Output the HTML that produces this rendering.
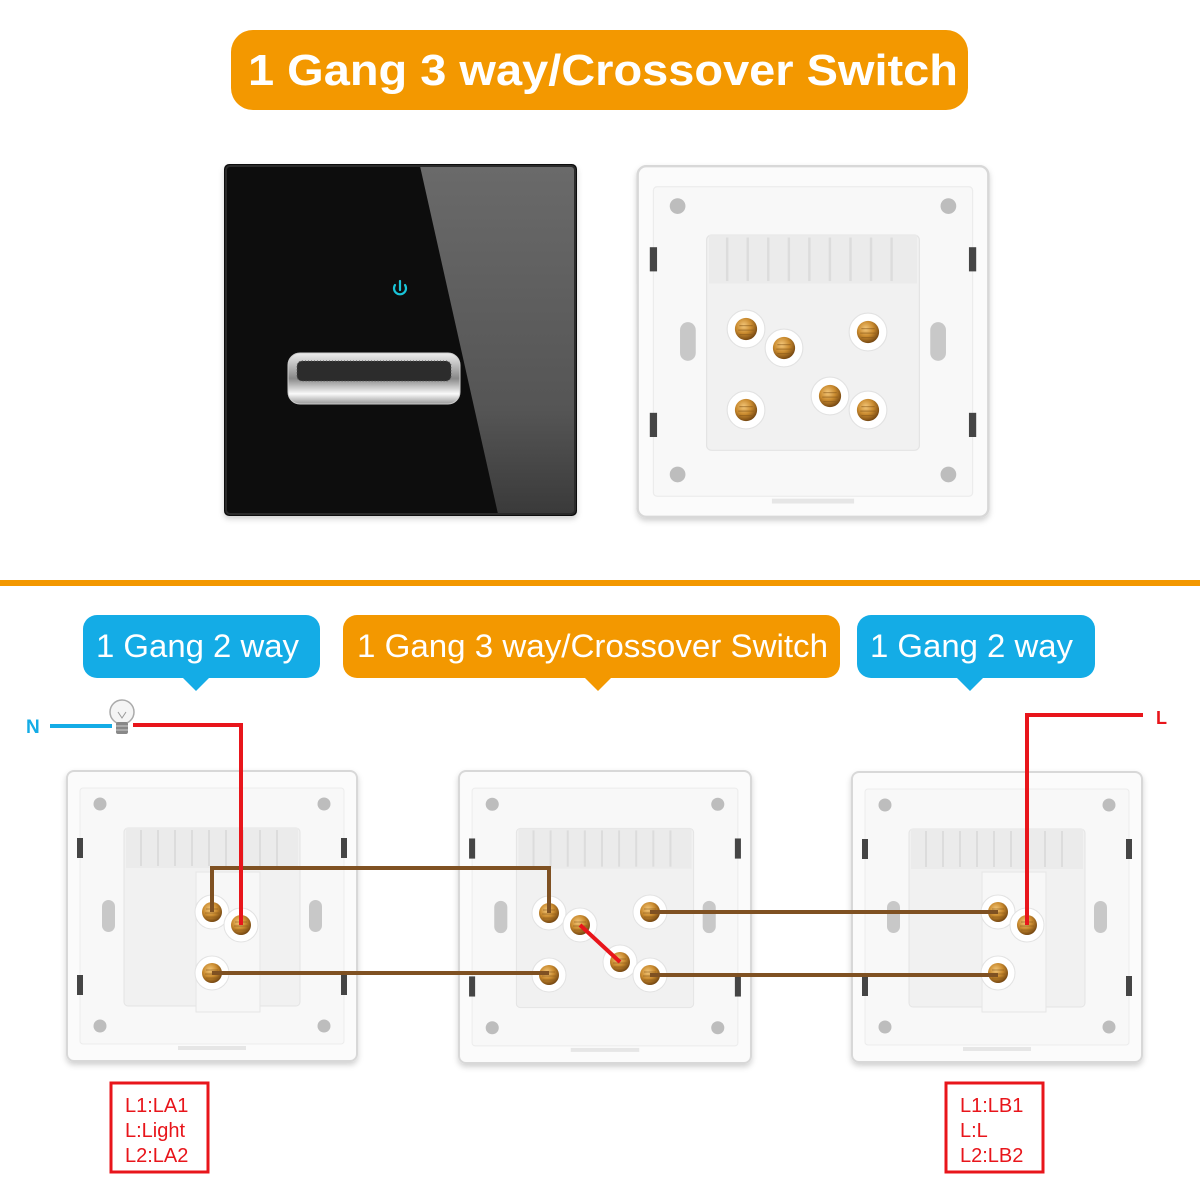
<!DOCTYPE html>
<html><head><meta charset="utf-8"><style>
html,body{margin:0;padding:0;background:#fff}
svg{display:block}
text{font-family:"Liberation Sans",sans-serif}
</style></head><body>
<svg width="1200" height="1200" viewBox="0 0 1200 1200" xmlns="http://www.w3.org/2000/svg">
<defs>
<radialGradient id="gold" cx="40%" cy="35%" r="70%">
<stop offset="0" stop-color="#f4c77a"/><stop offset="0.5" stop-color="#c98a2e"/><stop offset="1" stop-color="#6b3f0e"/>
</radialGradient>
<linearGradient id="glare" x1="0" y1="0" x2="0" y2="1">
<stop offset="0" stop-color="#6a6a6a"/><stop offset="0.7" stop-color="#555"/><stop offset="1" stop-color="#3a3a3a"/>
</linearGradient>
<linearGradient id="silver" x1="0" y1="0" x2="0" y2="1">
<stop offset="0" stop-color="#eee"/><stop offset="0.5" stop-color="#888"/><stop offset="0.8" stop-color="#fafafa"/><stop offset="1" stop-color="#999"/>
</linearGradient>
<filter id="sh" x="-10%" y="-10%" width="120%" height="120%"><feDropShadow dx="0" dy="3" stdDeviation="3" flood-color="#000" flood-opacity="0.18"/></filter>
<symbol id="plate" viewBox="0 0 292 292" width="292" height="292">
<rect x="1" y="1" width="290" height="290" rx="7" fill="#fbfbfb" stroke="#d8d8d8" stroke-width="2"/>
<rect x="14" y="18" width="264" height="256" rx="3" fill="#f8f8f8" stroke="#ececec"/>
<circle cx="34" cy="34" r="6.5" fill="#bdbdbd"/><circle cx="258" cy="34" r="6.5" fill="#bdbdbd"/>
<circle cx="34" cy="256" r="6.5" fill="#bdbdbd"/><circle cx="258" cy="256" r="6.5" fill="#bdbdbd"/>
<rect x="11" y="68" width="6" height="20" fill="#444"/><rect x="275" y="68" width="6" height="20" fill="#444"/>
<rect x="11" y="205" width="6" height="20" fill="#444"/><rect x="275" y="205" width="6" height="20" fill="#444"/>
<rect x="36" y="130" width="13" height="32" rx="6.5" fill="#c8c8c8"/><rect x="243" y="130" width="13" height="32" rx="6.5" fill="#c8c8c8"/>
<rect x="58" y="58" width="176" height="178" rx="4" fill="#f1f1f1" stroke="#e4e4e4"/>
<rect x="60" y="58" width="172" height="40" fill="#ebebeb"/>
<g stroke="#dcdcdc" stroke-width="2"><line x1="75" y1="60" x2="75" y2="96"/><line x1="92" y1="60" x2="92" y2="96"/><line x1="109" y1="60" x2="109" y2="96"/><line x1="126" y1="60" x2="126" y2="96"/><line x1="143" y1="60" x2="143" y2="96"/><line x1="160" y1="60" x2="160" y2="96"/><line x1="177" y1="60" x2="177" y2="96"/><line x1="194" y1="60" x2="194" y2="96"/><line x1="211" y1="60" x2="211" y2="96"/></g>
<rect x="112" y="276" width="68" height="4" fill="#e6e6e6"/>
</symbol>
<symbol id="term" viewBox="-18 -18 36 36" width="36" height="36">
<circle r="17" fill="#fff" stroke="#e2e2e2"/>
<circle r="10" fill="url(#gold)"/>
<g stroke="#8a5a1a" stroke-width="1" opacity="0.6"><line x1="-6" y1="-3" x2="6" y2="-3"/><line x1="-7" y1="1" x2="7" y2="1"/><line x1="-6" y1="5" x2="6" y2="5"/></g>
</symbol>
</defs>

<!-- title -->
<rect x="231" y="30" width="737" height="80" rx="22" fill="#f39800"/>
<text x="248" y="85" font-size="44" font-weight="bold" fill="#fff" textLength="710" lengthAdjust="spacingAndGlyphs">1 Gang 3 way/Crossover Switch</text>

<!-- black panel -->
<g filter="url(#sh)">
<rect x="224" y="164" width="353" height="352" rx="5" fill="#0b0b0c"/>
</g>
<path d="M420 166 L573 166 Q575 166 575 170 L575 510 Q575 514 571 514 L498 514 Z" fill="url(#glare)"/>
<rect x="226" y="166" width="349" height="348" rx="4" fill="none" stroke="#2a2a2a" stroke-width="2"/>
<g fill="none" stroke="#19c4d8" stroke-width="2.2" stroke-linecap="round">
<path d="M395 285 A6 6 0 1 0 405 285"/><line x1="400" y1="281" x2="400" y2="290"/>
</g>
<rect x="288" y="353" width="172" height="51" rx="12" fill="url(#silver)" stroke="#ccc"/>
<rect x="297" y="361" width="154" height="20" rx="5" fill="#2c2c2c"/>
<rect x="297" y="361" width="154" height="20" rx="5" fill="none" stroke="#555" stroke-dasharray="1 2"/>

<!-- top white back -->
<g filter="url(#sh)"><use href="#plate" x="636" y="165" width="354" height="353"/></g>
<use href="#term" x="726" y="309" width="40" height="40"/>
<use href="#term" x="764" y="328" width="40" height="40"/>
<use href="#term" x="848" y="312" width="40" height="40"/>
<use href="#term" x="726" y="390" width="40" height="40"/>
<use href="#term" x="810" y="376" width="40" height="40"/>
<use href="#term" x="848" y="390" width="40" height="40"/>

<!-- divider -->
<rect x="0" y="580" width="1200" height="6" fill="#f39800"/>

<!-- labels -->
<rect x="83" y="615" width="237" height="63" rx="14" fill="#14ace6"/>
<path d="M182 677 L196 691 L210 677 Z" fill="#14ace6"/>
<text x="96" y="657" font-size="32" fill="#fff" textLength="203" lengthAdjust="spacingAndGlyphs">1 Gang 2 way</text>
<rect x="343" y="615" width="497" height="63" rx="14" fill="#f39800"/>
<path d="M584 677 L598 691 L612 677 Z" fill="#f39800"/>
<text x="357" y="657" font-size="32" fill="#fff" textLength="471" lengthAdjust="spacingAndGlyphs">1 Gang 3 way/Crossover Switch</text>
<rect x="857" y="615" width="238" height="63" rx="14" fill="#14ace6"/>
<path d="M956 677 L970 691 L984 677 Z" fill="#14ace6"/>
<text x="870" y="657" font-size="32" fill="#fff" textLength="203" lengthAdjust="spacingAndGlyphs">1 Gang 2 way</text>

<!-- plates -->
<g filter="url(#sh)">
<use href="#plate" x="66" y="770" width="292" height="292"/>
<use href="#plate" x="458" y="770" width="294" height="294"/>
<use href="#plate" x="851" y="770" width="292" height="294"/>
</g>
<rect x="196" y="872" width="64" height="140" fill="#f7f7f7" stroke="#e6e6e6"/>
<use href="#term" x="194" y="894" width="36" height="36"/>
<use href="#term" x="223" y="907" width="36" height="36"/>
<use href="#term" x="194" y="955" width="36" height="36"/>
<use href="#term" x="531" y="895" width="36" height="36"/>
<use href="#term" x="562" y="907" width="36" height="36"/>
<use href="#term" x="632" y="894" width="36" height="36"/>
<use href="#term" x="531" y="957" width="36" height="36"/>
<use href="#term" x="602" y="944" width="36" height="36"/>
<use href="#term" x="632" y="957" width="36" height="36"/>
<rect x="982" y="872" width="64" height="140" fill="#f7f7f7" stroke="#e6e6e6"/>
<use href="#term" x="980" y="894" width="36" height="36"/>
<use href="#term" x="1009" y="907" width="36" height="36"/>
<use href="#term" x="980" y="955" width="36" height="36"/>

<!-- wires -->
<g fill="none" stroke="#7f5122" stroke-width="4">
<polyline points="212,912 212,868 549,868 549,913"/>
<line x1="212" y1="973" x2="549" y2="973"/>
<line x1="650" y1="912" x2="998" y2="912"/>
<line x1="650" y1="975" x2="998" y2="975"/>
</g>
<g fill="none" stroke="#e8151b" stroke-width="4">
<polyline points="133,725 241,725 241,925"/>
<polyline points="1143,715 1027,715 1027,925"/>
<line x1="580" y1="925" x2="620" y2="962"/>
</g>
<line x1="50" y1="726" x2="112" y2="726" stroke="#14ace6" stroke-width="4"/>
<text x="26" y="733" font-size="19" font-weight="bold" fill="#14ace6">N</text>
<text x="1156" y="724" font-size="18" font-weight="bold" fill="#e8151b">L</text>
<circle cx="122" cy="712" r="12" fill="#f4f4f4" stroke="#aaa" stroke-width="1.5"/>
<path d="M118 712 L122 718 L126 712" fill="none" stroke="#999"/>
<rect x="116" y="722" width="12" height="12" rx="2" fill="#888"/>
<g stroke="#ccc"><line x1="116" y1="726" x2="128" y2="726"/><line x1="116" y1="730" x2="128" y2="730"/></g>

<!-- spec boxes -->
<rect x="111" y="1083" width="97" height="89" fill="#fff" stroke="#e8151b" stroke-width="3"/>
<text font-size="20" fill="#e8151b"><tspan x="125" y="1112">L1:LA1</tspan><tspan x="125" y="1137">L:Light</tspan><tspan x="125" y="1162">L2:LA2</tspan></text>
<rect x="946" y="1083" width="97" height="89" fill="#fff" stroke="#e8151b" stroke-width="3"/>
<text font-size="20" fill="#e8151b"><tspan x="960" y="1112">L1:LB1</tspan><tspan x="960" y="1137">L:L</tspan><tspan x="960" y="1162">L2:LB2</tspan></text>
</svg>
</body></html>
